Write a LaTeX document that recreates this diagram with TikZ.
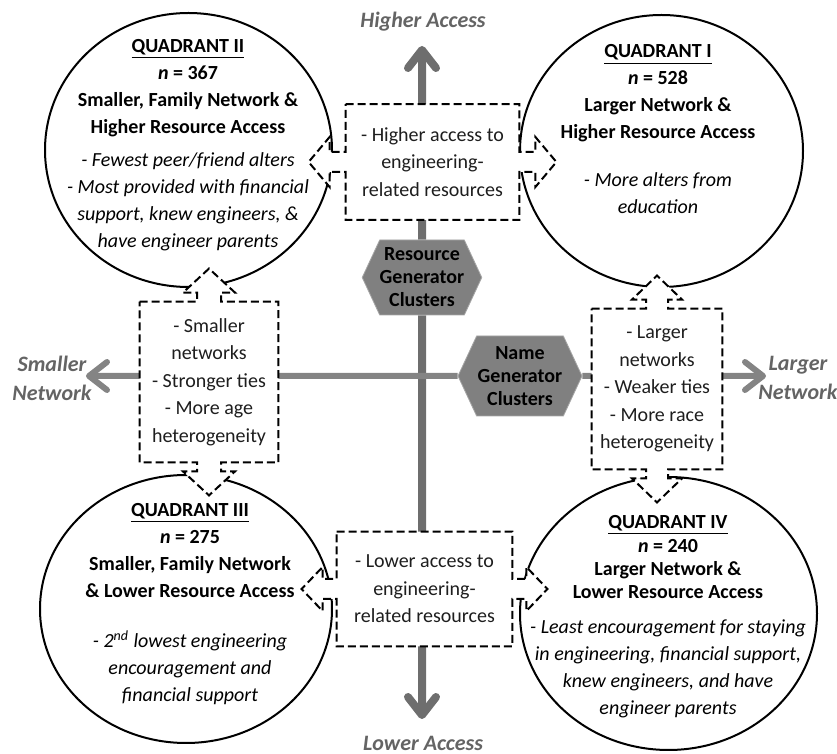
\documentclass[tikz,border=0pt]{standalone}
\usepackage{fontspec}
\setmainfont{Carlito}
\usetikzlibrary{arrows.meta,calc,positioning,shapes.geometric,shapes.symbols}
\definecolor{axisdark}{RGB}{110,110,110}
\definecolor{axislight}{RGB}{132,132,132}
\definecolor{hexgray}{RGB}{128,128,128}
\definecolor{labelgray}{RGB}{100,100,100}
\definecolor{ink}{RGB}{30,30,30}
\pgfdeclarelayer{bg}
\pgfdeclarelayer{mid}
\pgfsetlayers{bg,mid,main}
\tikzstyle{quad} = [
    ellipse,
    draw=black,
    fill=white,
    line width=1pt,
    inner sep=0pt
]
\tikzstyle{quadtext} = [
    align=center,
    text=black,
    inner sep=0pt,
    font=\fontsize{10}{13.5}\selectfont
]
\tikzstyle{boxtext} = [
    align=center,
    text=ink,
    inner sep=0pt,
    font=\fontsize{10}{13.8}\selectfont
]
\tikzstyle{callbox} = [
    draw=black,
    fill=white,
    line width=1pt,
    dash pattern=on 4pt off 2pt
]
\tikzstyle{hexa} = [
    signal,
    signal to=east and west,
    signal pointer angle=130,
    fill=hexgray,
    draw=hexgray!70,
    align=center,
    inner sep=0pt,
    font=\bfseries\fontsize{10}{11.5}\selectfont
]
\tikzstyle{axisarrow} = [
    draw=axisdark,
    line width=4pt,
    -{Straight Barb[length=9pt,width=14pt,round]}
]
\tikzstyle{axislabel} = [
    align=center,
    text=labelgray,
    font=\bfseries\itshape\fontsize{11}{14.5}\selectfont
]
% box with arrows to left and right: node, shaft half, shaft length, head half, head length
\newcommand{\lrcallout}[5]{%
    \draw[callbox] (#1.north west) -- (#1.north east) -- ($(#1.east)+(0,-#2)$)
        -- ++(#3,0) -- ++(0,#2-#4) -- ++(#5,#4) -- ++(-#5,#4) -- ++(0,#2-#4) -- ++(-#3,0)
        -- (#1.south east) -- (#1.south west) -- ($(#1.west)+(0,#2)$)
        -- ++(-#3,0) -- ++(0,#4-#2) -- ++(-#5,-#4) -- ++(#5,-#4) -- ++(0,#4-#2) -- ++(#3,0)
        -- cycle;}
% box with arrows up and down
\newcommand{\udcallout}[5]{%
    \draw[callbox] (#1.north west) -- ($(#1.north)+(-#2,0)$)
        -- ++(0,-#3) -- ++(#2-#4,0) -- ++(#4,-#5) -- ++(#4,#5) -- ++(#2-#4,0) -- ++(0,#3)
        -- (#1.north east) -- (#1.south east) -- ($(#1.south)+(#2,0)$)
        -- ++(0,#3) -- ++(#4-#2,0) -- ++(-#4,#5) -- ++(-#4,-#5) -- ++(#4-#2,0) -- ++(0,-#3)
        -- (#1.south west) -- cycle;}

\begin{document}
\begin{tikzpicture}[x=0.5pt,y=-0.5pt]
    \useasboundingbox (0,0) rectangle (837,754);

    % quadrants
    \begin{pgfonlayer}{mid}
        \node[quad, minimum width=143.5pt, minimum height=137pt] (q2) at (188.5,150) {};
        \node[quad, minimum width=141.5pt, minimum height=136pt] (q1) at (661.5,151) {};
        \node[quad, minimum width=146pt, minimum height=134pt] (q3) at (186,609) {};
        \node[quad, minimum width=148.5pt, minimum height=136.5pt] (q4) at (668.5,613.5) {};
    \end{pgfonlayer}

    \node[quadtext] (q2text) at (188,145) {%
        \textbf{\underline{QUADRANT II}}\\
        \textbf{\textit{n} = 367}\\
        \textbf{Smaller, Family Network \&}\\
        \textbf{Higher Resource Access}\\[3pt]
        \textit{- Fewest peer/friend alters}\\
        \textit{- Most provided with financial}\\
        \textit{support, knew engineers, \&}\\
        \textit{have engineer parents}};
    \node[quadtext] (q1text) at (658,129.5) {%
        \textbf{\underline{QUADRANT I}}\\
        \textbf{\textit{n} = 528}\\
        \textbf{Larger Network \&}\\
        \textbf{Higher Resource Access}\\[10.5pt]
        \textit{- More alters from}\\
        \textit{education}};
    \node[quadtext] (q3text) at (190,604) {%
        \textbf{\underline{QUADRANT III}}\\
        \textbf{\textit{n} = 275}\\
        \textbf{Smaller, Family Network}\\
        \textbf{\& Lower Resource Access}\\[11.5pt]
        \textit{- 2\textsuperscript{nd} lowest engineering}\\
        \textit{encouragement and}\\
        \textit{financial support}};
    \node[quadtext] (q4text) at (668,616.5) {%
        \textbf{\underline{QUADRANT IV}}\\[-1.5pt]
        \textbf{\textit{n} = 240}\\[-2pt]
        \textbf{Larger Network \&}\\[-2pt]
        \textbf{Lower Resource Access}\\[4pt]
        \textit{- Least encouragement for staying}\\
        \textit{in engineering, financial support,}\\
        \textit{knew engineers, and have}\\
        \textit{engineer parents}};

    % dashed boxes
    \node[boxtext, minimum width=86.5pt, minimum height=57.5pt] (hibox) at (432.5,162)
        {- Higher access to\\engineering-\\related resources};
    \node[boxtext, minimum width=87.5pt, minimum height=57pt] (lobox) at (424.5,589)
        {- Lower access to\\engineering-\\related resources};
    \node[boxtext, minimum width=69pt, minimum height=80pt] (smbox) at (209,382)
        {- Smaller\\networks\\- Stronger ties\\- More age\\heterogeneity};
    \node[boxtext, minimum width=65pt, minimum height=80pt] (lgbox) at (657,389)
        {- Larger\\networks\\- Weaker ties\\- More race\\heterogeneity};

    \begin{pgfonlayer}{mid}
        \lrcallout{hibox}{10}{16}{25}{21}
        \lrcallout{lobox}{10}{14}{22}{21}
        \udcallout{smbox}{12}{9}{26}{24}
        \udcallout{lgbox}{11}{9}{25}{24}
    \end{pgfonlayer}

    % clusters
    \node[hexa, minimum width=59pt, minimum height=37.5pt] (rgc) at (422,277.5)
        {Resource\\Generator\\Clusters};
    \node[hexa, minimum width=62pt, minimum height=40pt] (ngc) at (520,376)
        {Name\\Generator\\Clusters};

    % axes
    \coordinate (hightip) at (422,46);
    \coordinate (lowtip) at (422,719);
    \coordinate (smalltip) at (86,376);
    \coordinate (largetip) at (766,376);
    \node[axislabel] (highlbl) at (423,22) {Higher Access};
    \node[axislabel] (lowlbl) at (423,743) {Lower Access};
    \node[axislabel] (smalllbl) at (52,378) {Smaller\\Network};
    \node[axislabel] (largelbl) at (798,378) {Larger\\Network};

    \begin{pgfonlayer}{bg}
        \draw[axisarrow] (rgc) -- (hightip);
        \draw[axisarrow] (rgc) -- (lowtip);
        \draw[axisarrow, draw=axislight, line width=3pt] (ngc) -- (smalltip);
        \draw[axisarrow, draw=axislight, line width=3pt] (ngc) -- (largetip);
    \end{pgfonlayer}
\end{tikzpicture}
\end{document}
